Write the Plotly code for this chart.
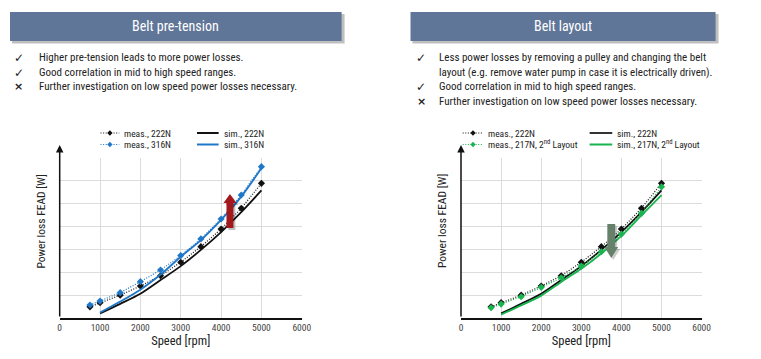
import plotly.graph_objects as go

# ---------------- data ----------------
speed_meas = [750, 1000, 1500, 2000, 2500, 3000, 3500, 4000, 4500, 5000]
meas_222N = [49, 67, 100, 140, 185, 244, 312, 389, 480, 589]
meas_316N = [57, 74, 111, 159, 210, 273, 346, 433, 538, 662]
meas_217N_layout2 = [45, 61, 93, 134, 176, 227, 290, 367, 458, 574]

speed_sim = [1000, 1500, 2000, 2500, 3000, 3500, 4000, 4500, 5000]
sim_222N = [20, 62, 106, 166, 227, 298, 376, 463, 558]
sim_316N = [24, 72, 124, 190, 268, 341, 429, 531, 655]
sim_217N_layout2 = [15, 55, 98, 158, 215, 282, 359, 449, 538]

x_ticks = [0, 1000, 2000, 3000, 4000, 5000, 6000]

left_title = "Belt pre-tension"
right_title = "Belt layout"
left_bullets = [("✓", "Higher pre-tension leads to more power losses."),
                ("✓", "Good correlation in mid to high speed ranges."),
                ("×", "Further investigation on low speed power losses necessary.")]
right_bullets = [("✓", "Less power losses by removing a pulley and changing the belt"),
                 ("", "layout (e.g. remove water pump in case it is electrically driven)."),
                 ("✓", "Good correlation in mid to high speed ranges."),
                 ("×", "Further investigation on low speed power losses necessary.")]

# ---------------- styling ----------------
# page body has an 8px default margin -> figure is placed at (8, 8) in the window
OFF = 8
W, H = 761 - OFF, 359 - OFF
FONT = "Liberation Sans Narrow, Arial Narrow, Roboto Condensed, DejaVu Sans Condensed, sans-serif"
BLACK = "#111111"
BLUE = "#1f77c8"
GREEN = "#19b34f"
BAR = "#5f7699"
GRID = "#dcdcdc"
DOT = "1px,1.6px"


def px(x):
    return (x - OFF) / W


def py(y):
    return 1 - (y - OFF) / H


def path(points):
    return "M " + " L ".join(f"{px(x):.5f},{py(y):.5f}" for x, y in points) + " Z"


fig = go.Figure()


def meas_trace(x, y, color, xa, ya):
    return go.Scatter(x=x, y=y, xaxis=xa, yaxis=ya, mode="lines+markers",
                      line=dict(dash=DOT, width=1.2, color=color),
                      marker=dict(symbol="diamond", size=5.5, color=color),
                      showlegend=False, hoverinfo="skip")


def sim_trace(x, y, color, xa, ya):
    return go.Scatter(x=x, y=y, xaxis=xa, yaxis=ya, mode="lines",
                      line=dict(width=1.8, color=color, shape="spline", smoothing=0.8),
                      showlegend=False, hoverinfo="skip")


# left panel
fig.add_trace(meas_trace(speed_meas, meas_222N, BLACK, "x", "y"))
fig.add_trace(sim_trace(speed_sim, sim_222N, BLACK, "x", "y"))
fig.add_trace(meas_trace(speed_meas, meas_316N, BLUE, "x", "y"))
fig.add_trace(sim_trace(speed_sim, sim_316N, BLUE, "x", "y"))

# right panel
fig.add_trace(meas_trace(speed_meas, meas_222N, BLACK, "x2", "y2"))
fig.add_trace(sim_trace(speed_sim, sim_222N, BLACK, "x2", "y2"))
fig.add_trace(meas_trace(speed_meas, meas_217N_layout2, GREEN, "x2", "y2"))
fig.add_trace(sim_trace(speed_sim, sim_217N_layout2, GREEN, "x2", "y2"))

xaxis_common = dict(range=[0, 6000], tickvals=x_ticks, ticktext=[str(t) for t in x_ticks],
                    showgrid=True, gridcolor=GRID, gridwidth=1, zeroline=False,
                    showline=True, linecolor=BLACK, linewidth=1.5, ticks="", ticklen=0,
                    tickfont=dict(family=FONT, size=9.5, color="#444444"),
                    title=dict(text="Speed [rpm]", font=dict(family=FONT, size=12.5, color="#222222"), standoff=2))
yaxis_common = dict(range=[0, 700], dtick=100, showgrid=True, gridcolor=GRID, gridwidth=1,
                    zeroline=False, showline=False, showticklabels=False, ticks="")

ydom = [py(318), py(158)]
fig.update_layout(
    width=W, height=H, margin=dict(l=0, r=0, t=0, b=0),
    paper_bgcolor="white", plot_bgcolor="white",
    font=dict(family=FONT, color="#222222"),
    xaxis=dict(domain=[px(58.5), px(304.5)], anchor="y", **xaxis_common),
    yaxis=dict(domain=ydom, anchor="x", **yaxis_common),
    xaxis2=dict(domain=[px(466.3), px(710.8)], anchor="y2", **xaxis_common),
    yaxis2=dict(domain=ydom, anchor="x2", **yaxis_common),
)

shapes = []
annotations = []

# header bars
for (x0, x1, title) in [(8, 345, left_title), (415, 725, right_title)]:
    shapes.append(dict(type="rect", xref="paper", yref="paper", x0=px(x0 + 2), x1=px(x1 + 3),
                       y0=py(43.5), y1=py(14), fillcolor="rgba(0,0,0,0.25)", line=dict(width=0), layer="below"))
    shapes.append(dict(type="rect", xref="paper", yref="paper", x0=px(x0), x1=px(x1),
                       y0=py(41), y1=py(12), fillcolor=BAR, line=dict(width=0), layer="below"))
    annotations.append(dict(xref="paper", yref="paper", x=px((x0 + x1) / 2), y=py(26.5), text=title,
                            showarrow=False, xanchor="center", yanchor="middle",
                            font=dict(family=FONT, size=14, color="white")))

# bullets
for bullets, xb, xt, ys in [(left_bullets, 17, 35, [58, 72.5, 87]),
                            (right_bullets, 426, 442, [58, 72.5, 87, 101.5])]:
    for (sym, txt), y in zip(bullets, ys):
        if sym:
            annotations.append(dict(xref="paper", yref="paper", x=px(xb), y=py(y),
                                    text=f"<b>{sym}</b>" if sym == "×" else sym,
                                    showarrow=False, xanchor="center", yanchor="middle",
                                    font=dict(family="DejaVu Sans", size=12 if sym == "✓" else 11, color="#222222")))
        annotations.append(dict(xref="paper", yref="paper", x=px(xt), y=py(y), text=txt,
                                showarrow=False, xanchor="left", yanchor="middle",
                                font=dict(family=FONT, size=11, color="#222222")))

# y axes with arrow + titles
for xa, xtitle in [(58.5, 40), (466.3, 447)]:
    annotations.append(dict(xref="paper", yref="paper", x=px(xa), y=py(145), ax=0, ay=173,
                            showarrow=True, arrowhead=2, arrowsize=1, arrowwidth=1.5, arrowcolor=BLACK, text=""))
    annotations.append(dict(xref="paper", yref="paper", x=px(xtitle), y=py(221), text="Power loss FEAD [W]",
                            textangle=-90, showarrow=False, xanchor="center", yanchor="middle",
                            font=dict(family=FONT, size=11.5, color="#222222")))


# legends
def legend_entry(x0, x1, y, color, text, dotted, marker):
    shapes.append(dict(type="line", xref="paper", yref="paper", x0=px(x0), x1=px(x1), y0=py(y), y1=py(y),
                       line=dict(color=color, width=1.2 if dotted else 2, dash=DOT if dotted else "solid")))
    if marker:
        xm = (x0 + x1) / 2
        shapes.append(dict(type="path", xref="paper", yref="paper",
                           path=path([(xm - 2.7, y), (xm, y - 2.7), (xm + 2.7, y), (xm, y + 2.7)]),
                           fillcolor=color, line=dict(width=0)))
    annotations.append(dict(xref="paper", yref="paper", x=px(x1 + 3), y=py(y), text=text,
                            showarrow=False, xanchor="left", yanchor="middle",
                            font=dict(family=FONT, size=9.5, color="#222222")))


legend_entry(100, 119, 133, BLACK, "meas., 222N", True, True)
legend_entry(100, 119, 144.5, BLUE, "meas., 316N", True, True)
legend_entry(198, 220, 133, BLACK, "sim., 222N", False, False)
legend_entry(198, 220, 144.5, BLUE, "sim., 316N", False, False)

legend_entry(468, 489, 133, BLACK, "meas., 222N", True, True)
legend_entry(468, 489, 144.5, GREEN, "meas., 217N, 2<sup>nd</sup> Layout", True, True)
legend_entry(597, 620, 133, "#333333", "sim., 222N", False, False)
legend_entry(597, 620, 144.5, GREEN, "sim., 217N, 2<sup>nd</sup> Layout", False, False)

# red arrow (up) with shadow
red_up = [(228, 228), (228, 203), (225, 203), (231.5, 194), (238, 203), (235, 203), (235, 228)]
shapes.append(dict(type="path", xref="paper", yref="paper", path=path([(x + 2, y + 2) for x, y in red_up]),
                   fillcolor="rgba(0,0,0,0.25)", line=dict(width=0)))
shapes.append(dict(type="path", xref="paper", yref="paper", path=path(red_up),
                   fillcolor="#a3181c", line=dict(width=0)))

# green arrow (down) with shadow
green_down = [(615, 224), (615, 247), (612, 247), (619, 258), (626, 247), (623, 247), (623, 224)]
shapes.append(dict(type="path", xref="paper", yref="paper", path=path([(x + 2, y + 2) for x, y in green_down]),
                   fillcolor="rgba(0,0,0,0.2)", line=dict(width=0)))
shapes.append(dict(type="path", xref="paper", yref="paper", path=path(green_down),
                   fillcolor="#66816a", line=dict(width=0)))

fig.update_layout(shapes=shapes, annotations=annotations)
fig.write_html("out.html")
